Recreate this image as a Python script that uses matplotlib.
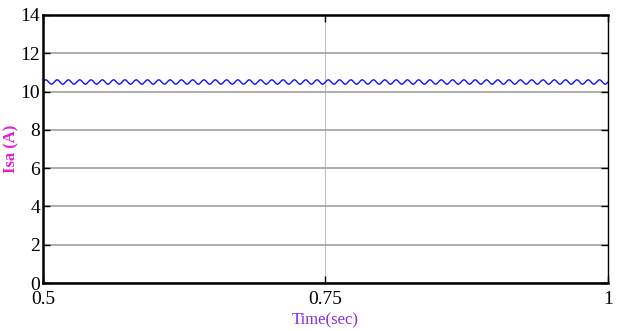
import numpy as np
import matplotlib
matplotlib.use("Agg")
import matplotlib.pyplot as plt

# readings from the scope trace
t_start, t_end = 0.5, 1.0
n_cycles = 50                      # ripple cycles counted over 0.5..1 s
ripple_cycle = [10.50, 10.58, 10.62, 10.58, 10.50, 10.42, 10.38, 10.42]  # one period, A

x_ticks = [0.5, 0.75, 1.0]
x_tick_labels = ["0.5", "0.75", "1"]
y_ticks = [0, 2, 4, 6, 8, 10, 12, 14]

isa = ripple_cycle * n_cycles + [ripple_cycle[0]]
t = np.linspace(t_start, t_end, len(isa))

plt.rcParams["font.family"] = ["Liberation Serif", "DejaVu Serif"]

fig = plt.figure(figsize=(6.17, 3.31), dpi=100)
ax = fig.add_axes([0.0697, 0.145, 0.9157, 0.8097])

ax.plot(t, isa, color="#1010ff", linewidth=1.0)

ax.set_xlim(t_start, t_end)
ax.set_ylim(0, 14)
ax.set_xticks(x_ticks)
ax.set_xticklabels(x_tick_labels)
ax.set_yticks(y_ticks)

ax.yaxis.grid(True, color="#a0a0a0", linewidth=1.2)
ax.xaxis.grid(True, color="#c0c0c0", linewidth=0.8)
ax.set_axisbelow(True)

ax.tick_params(direction="in", length=5, width=1, top=True, right=True,
               labelsize=14, colors="black")
ax.tick_params(axis="y", pad=2)
ax.tick_params(axis="x", pad=6)
for side in ["left", "bottom", "top"]:
    ax.spines[side].set_linewidth(1.8)
ax.spines["right"].set_linewidth(1.0)

ax.set_xlabel("Time(sec)", color="#8a2be2", fontsize=12)
ax.xaxis.set_label_coords(0.5, -0.11)
ax.set_ylabel("Isa (A)", color="#e020d0", fontsize=12, fontweight="bold")
ax.yaxis.set_label_coords(-0.042, 0.5)

fig.savefig("out.png", dpi=100)
